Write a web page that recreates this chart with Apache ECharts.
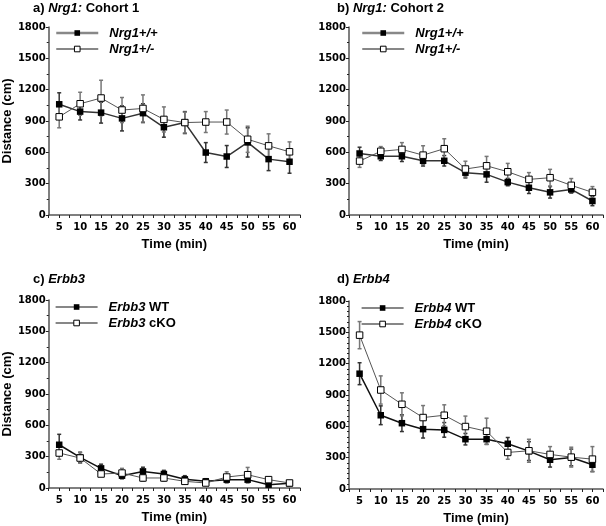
<!DOCTYPE html>
<html><head><meta charset="utf-8">
<script src="https://cdn.jsdelivr.net/npm/echarts@6/dist/echarts.min.js"></script>
<style>html,body{margin:0;padding:0;background:#fff}#c{width:606px;height:526px}</style>
</head><body><div id="c"></div>
<script>
var times = [5,10,15,20,25,30,35,40,45,50,55,60];
var yTicks = [0,300,600,900,1200,1500,1800];

// Panel a: Nrg1 Cohort 1
var aWT = [1060,990,980,925,975,840,885,598,560,695,535,510];
var aWTerr = [110,80,100,120,90,95,105,95,105,140,110,110];
var aHet = [940,1065,1120,1005,1020,915,885,890,890,725,662,605];
var aHetErr = [105,110,170,120,130,120,100,100,115,125,115,95];
// Panel b: Nrg1 Cohort 2
var bWT = [589,562,562,519,519,405,389,315,261,217,245,134];
var bWTerr = [60,40,50,50,50,50,75,35,55,55,35,45];
var bHet = [516,610,628,573,635,440,471,414,341,357,284,217];
var bHetErr = [60,45,65,90,95,75,90,80,65,80,65,55];
// Panel c: Erbb3
var cWT = [414,293,188,118,159,134,83,64,80,80,32,45];
var cWTerr = [100,50,40,30,40,35,35,25,30,30,20,15];
var cKO = [335,287,134,143,96,96,64,48,105,127,80,48];
var cKOerr = [60,50,20,45,30,30,20,20,50,70,25,15];
// Panel d: Erbb4
var dWT = [1104,706,630,573,566,477,477,433,363,280,302,232];
var dWTerr = [105,90,80,85,70,55,50,60,90,70,80,65];
var dKO = [1473,948,811,684,706,598,553,350,366,331,305,286];
var dKOerr = [130,135,110,115,100,100,125,65,110,75,95,120];

var panels = [
  {title:'{n|a) }{i|Nrg1:}{n| Cohort 1}', names:['Nrg1+/+','Nrg1+/-'], fmt:['{i|Nrg1+/+}','{i|Nrg1+/-}'],
   s:[aWT,aHet], e:[aWTerr,aHetErr], left:43, top:27, tx:33, ty:2, lx:55, ly:26, yname:true, grey:true, minor:2},
  {title:'{n|b) }{i|Nrg1:}{n| Cohort 2}', names:['Nrg1+/+','Nrg1+/-'], fmt:['{i|Nrg1+/+}','{i|Nrg1+/-}'],
   s:[bWT,bHet], e:[bWTerr,bHetErr], left:349, top:27, tx:337, ty:2, lx:361, ly:26, yname:false, grey:true, minor:2},
  {title:'{n|c) }{i|Erbb3}', names:['Erbb3 WT','Erbb3 cKO'], fmt:['{i|Erbb3} {n|WT}','{i|Erbb3} {n|cKO}'],
   s:[cWT,cKO], e:[cWTerr,cKOerr], left:43, top:300, tx:33, ty:273, lx:55, ly:300, yname:true, grey:false, minor:2},
  {title:'{n|d) }{i|Erbb4}', names:['Erbb4 WT','Erbb4 cKO'], fmt:['{i|Erbb4} {n|WT}','{i|Erbb4} {n|cKO}'],
   s:[dWT,dKO], e:[dWTerr,dKOerr], left:349, top:301, tx:337, ty:273, lx:361, ly:301, yname:false, grey:false, minor:6}
];

var FONT = '"Liberation Sans", Arial, sans-serif';
var TICKFONT = '"DejaVu Sans", sans-serif';
var rich = {
  n:{fontFamily:FONT, fontWeight:'bold', fontSize:13, color:'#000'},
  i:{fontFamily:FONT, fontWeight:'bold', fontStyle:'italic', fontSize:13, color:'#000'}
};

var option = {animation:false, backgroundColor:'#fff', title:[], legend:[], grid:[], xAxis:[], yAxis:[], series:[]};

panels.forEach(function(p, k){
  option.title.push({text:p.title, left:p.tx, top:p.ty, padding:0, textStyle:{rich:rich, fontSize:13}});
  option.grid.push({left:p.left, top:p.top, width:257, height:188});
  option.xAxis.push({type:'value', gridIndex:k, min:2.5, max:62.5, interval:2.5,
    name:'Time (min)', nameLocation:'middle', nameGap:23,
    nameTextStyle:{fontFamily:FONT, fontWeight:'bold', fontSize:13, color:'#000'},
    axisLine:{lineStyle:{color:'#555', width:1.5}},
    axisTick:{show:true, length:3, lineStyle:{color:'#222', width:1}},
    axisLabel:{fontFamily:TICKFONT, fontWeight:'bold', fontSize:10, color:'#000', margin:7,
      formatter:function(v){ return (Math.abs(v%5)<1e-6) ? String(v) : ''; }},
    splitLine:{show:false}});
  option.yAxis.push({type:'value', gridIndex:k, min:0, max:1800, interval:300,
    name:p.yname ? 'Distance (cm)' : '', nameLocation:'middle', nameGap:30,
    nameTextStyle:{fontFamily:FONT, fontWeight:'bold', fontSize:13, color:'#000'},
    axisLine:{show:true, lineStyle:{color:'#555', width:1.5}},
    axisTick:{show:true, length:3, lineStyle:{color:'#222'}},
    minorTick:{show:true, splitNumber:p.minor, length:2, lineStyle:{color:'#222'}},
    axisLabel:{fontFamily:TICKFONT, fontWeight:'bold', fontSize:10, color:'#000', margin:3,
      formatter:function(v){ return yTicks.indexOf(v) >= 0 ? String(v) : ''; }},
    splitLine:{show:false}});

  var legendData = [];
  [0,1].forEach(function(j){
    var filled = j === 0;
    var lineColor = filled ? (p.grey ? '#333' : '#111') : '#555';
    var vals = p.s[j], errs = p.e[j];
    var pts = times.map(function(t,i){ return [t, vals[i]]; });
    var ebs = times.map(function(t,i){ return [t, vals[i]-errs[i], vals[i]+errs[i]]; });
    option.series.push({
      type:'custom', xAxisIndex:k, yAxisIndex:k, silent:true, z:1,
      data:ebs,
      renderItem:function(params, api){
        var x = api.value(0);
        var lo = api.coord([x, api.value(1)]);
        var hi = api.coord([x, api.value(2)]);
        var st = {stroke: filled ? '#333' : '#777', lineWidth:1.5};
        return {type:'group', children:[
          {type:'line', shape:{x1:lo[0], y1:lo[1], x2:hi[0], y2:hi[1]}, style:st},
          {type:'line', shape:{x1:lo[0]-2, y1:lo[1], x2:lo[0]+2, y2:lo[1]}, style:st},
          {type:'line', shape:{x1:hi[0]-2, y1:hi[1], x2:hi[0]+2, y2:hi[1]}, style:st}
        ]};
      }
    });
    option.series.push({
      name:p.names[j], type:'line', xAxisIndex:k, yAxisIndex:k, data:pts, z:3,
      symbol:'rect', symbolSize:6.5, showSymbol:true,
      lineStyle:{color:lineColor, width: filled ? 1.5 : 1},
      itemStyle:{color: filled ? '#000' : '#fff', borderColor:'#000', borderWidth: filled ? 0 : 1}
    });
    var ld = {name:p.names[j], itemStyle:{borderWidth: filled ? 0 : 1}};
    if (p.grey && filled) ld.lineStyle = {color:'#888', width:2.5};
    else ld.lineStyle = {color:'#111', width:1.2};
    legendData.push(ld);
  });
  var fmtMap = {}; fmtMap[p.names[0]] = p.fmt[0]; fmtMap[p.names[1]] = p.fmt[1];
  option.legend.push({orient:'vertical', left:p.lx, top:p.ly, padding:0, itemGap:2,
    itemWidth:42, itemHeight:7, data:legendData, selectedMode:false,
    formatter:function(n){ return fmtMap[n]; },
    textStyle:{rich:rich, fontSize:13, lineHeight:14, padding:[0,0,0,6]}});
});

var chart = echarts.init(document.getElementById('c'), null, {renderer:'canvas'});
chart.setOption(option);
</script>
</body></html>
